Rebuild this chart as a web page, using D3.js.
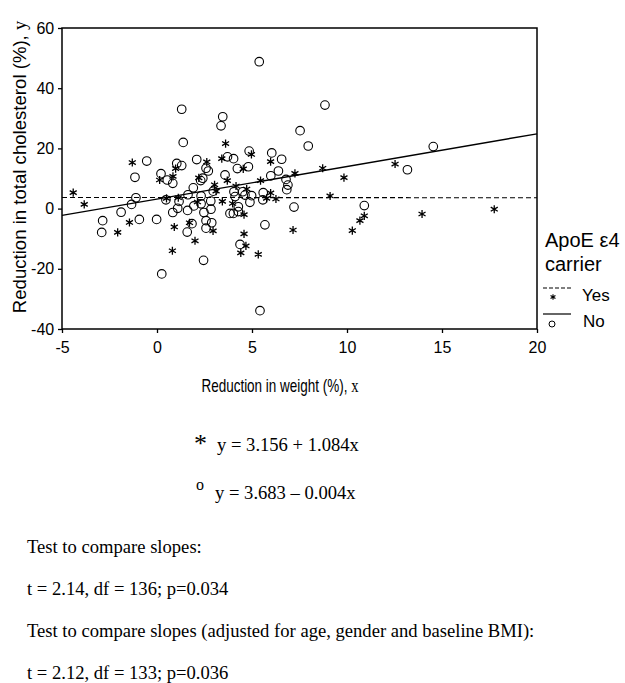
<!DOCTYPE html>
<html>
<head>
<meta charset="utf-8">
<script src="https://cdn.jsdelivr.net/npm/d3@7"></script>
<style>
  body { margin: 0; background: #fff; }
  svg text { fill: #000; }
</style>
</head>
<body>
<div id="chart"></div>
<script>
// ApoE e4 carrier = No (circles)
var noX = [1.30, 1.38, 3.46, 3.37, -0.54, -1.16, 1.04, 1.30, 2.09, 2.58, 2.70, 3.58, 0.21, 0.54, 0.83,
  2.30, 2.41, 1.91, 2.96, -1.11, 1.16, 1.63, 2.32, 2.83, 2.32, -1.34, -1.89, -2.86, -2.91, -0.93,
  -0.02, 0.25, 0.83, 0.47, 1.61, 1.59, 1.84, 2.45, 1.94, 2.47, 2.58, 2.84, 2.88, 2.58, 1.09,
  7.53, 7.96, 3.71, 4.03, 4.85, 6.04, 6.56, 4.23, 4.81, 6.39, 5.99, 6.79, 6.89, 6.83, 4.05,
  4.51, 4.98, 5.59, 4.11, 4.63, 5.57, 4.89, 7.21, 4.28, 3.84, 4.02, 4.28, 5.68, 4.37, 10.91,
  5.42, 5.38, 8.84, 14.54, 13.18];
var noY = [33.0, 22.0, 30.5, 27.5, 15.8, 10.4, 15.0, 14.3, 16.3, 13.4, 12.5, 11.2, 11.6, 9.5, 8.4,
  9.3, 10.1, 6.9, 5.8, 3.6, 2.4, 4.6, 4.2, 2.5, 1.6, 1.4, -1.2, -4.0, -7.9, -3.6,
  -3.6, -21.7, -1.3, 2.9, -0.6, -7.8, -5.0, -17.2, 0.9, -1.3, -4.0, -0.2, -4.7, -6.5, 0.1,
  25.9, 20.8, 17.2, 16.6, 19.1, 18.5, 16.4, 13.3, 13.9, 12.5, 10.9, 9.7, 7.8, 6.3, 5.6,
  5.6, 4.3, 5.3, 4.0, 4.5, 2.9, 2.1, 0.5, 0.6, -1.6, -1.6, -1.0, -5.4, -11.9, 1.0,
  -33.9, 48.8, 34.4, 20.6, 12.9];

// ApoE e4 carrier = Yes (asterisks)
var yesX = [-1.30, 0.98, 2.62, 3.41, 3.61, 0.14, 0.84, 2.20, 3.03, 3.11, 0.50, 1.12, 3.44, -4.41, -3.83,
  -2.07, -1.45, 0.81, 0.91, 1.71, 2.00, 2.95, 4.97, 5.98, 4.54, 3.70, 5.45, 7.26, 4.16, 4.72,
  5.98, 3.98, 5.77, 6.26, 4.58, 7.16, 4.58, 4.68, 4.41, 5.33, 9.84, 9.11, 10.91, 10.68, 10.28,
  8.72, 12.53, 13.95, 17.75, 2.13];
var yesY = [15.3, 13.3, 15.5, 16.6, 21.6, 9.5, 10.7, 10.2, 7.9, 5.8, 3.4, 3.6, 2.4, 5.3, 1.4,
  -7.9, -4.6, -14.0, -6.1, -4.7, -10.7, -7.4, 18.0, 15.6, 13.2, 9.3, 9.3, 11.7, 7.5, 6.5,
  5.2, 1.7, 3.4, 3.2, -2.0, -7.1, -8.4, -12.4, -14.7, -15.2, 10.3, 4.2, -2.4, -4.0, -7.3,
  13.4, 14.8, -1.8, -0.2, 2.2];

// fitted lines: intercept, slope
var yesFit = [3.156, 1.084];
var noFit = [3.683, -0.004];

var xTicks = [-5, 0, 5, 10, 15, 20];
var yTicks = [-40, -20, 0, 20, 40, 60];

var legendTitle = ["ApoE \u03b54", "carrier"];
var legendLabels = ["Yes", "No"];

var notes = [
  "Test to compare slopes:",
  "t = 2.14, df = 136; p=0.034",
  "Test to compare slopes (adjusted for age, gender and baseline BMI):",
  "t = 2.12, df = 133; p=0.036"
];

var W = 625, H = 683;
var margin = {top: 28, left: 62},
    width = 475, height = 301;

var svg = d3.select("#chart").append("svg")
    .attr("width", W)
    .attr("height", H);

var g = svg.append("g")
    .attr("transform", `translate(${margin.left},${margin.top})`);

var x = d3.scaleLinear().domain([-5, 20]).range([0, width]);
var y = d3.scaleLinear().domain([-40, 60]).range([height, 0]);

var sans = "'Liberation Sans', Arial, sans-serif";
var serif = "'Liberation Serif', 'Times New Roman', serif";
var fmt = function(d) { return String(d); }; // plain hyphen minus

// axes
var xAxis = g.append("g")
    .attr("transform", `translate(0,${height})`)
    .call(d3.axisBottom(x).tickValues(xTicks).tickFormat(fmt).tickSize(4).tickSizeOuter(0));
var yAxis = g.append("g")
    .call(d3.axisLeft(y).tickValues(yTicks).tickFormat(fmt).tickSize(4).tickSizeOuter(0));

[xAxis, yAxis].forEach(function(a) {
  a.select(".domain").remove();
  a.selectAll("line").attr("stroke", "#000").attr("stroke-width", 1.3);
  a.selectAll("text").style("font-family", sans).style("font-size", "16px").attr("fill", "#000");
});
xAxis.selectAll("text").attr("dy", "1.05em");
yAxis.selectAll("text").attr("dx", "-0.05em");

// frame
g.append("rect")
    .attr("width", width)
    .attr("height", height)
    .attr("fill", "none")
    .attr("stroke", "#000")
    .attr("stroke-width", 1.5);

// regression lines
var line = d3.line().x(function(d) { return x(d[0]); }).y(function(d) { return y(d[1]); });
function fitPts(f) { return x.domain().map(function(v) { return [v, f[0] + f[1] * v]; }); }

g.append("path").datum(fitPts(yesFit))
    .attr("fill", "none").attr("stroke", "#000").attr("stroke-width", 1.4)
    .attr("d", line);
g.append("path").datum(fitPts(noFit))
    .attr("fill", "none").attr("stroke", "#000").attr("stroke-width", 1.1)
    .attr("stroke-dasharray", "5,3")
    .attr("d", line);

// points
g.selectAll(".no").data(d3.range(noX.length)).enter()
  .append("circle")
    .attr("class", "no")
    .attr("cx", function(i) { return x(noX[i]); })
    .attr("cy", function(i) { return y(noY[i]); })
    .attr("r", 4.3)
    .attr("fill", "none")
    .attr("stroke", "#000")
    .attr("stroke-width", 1.1);

var star = d3.symbol().type(d3.symbolAsterisk).size(46);
g.selectAll(".yes").data(d3.range(yesX.length)).enter()
  .append("path")
    .attr("class", "yes")
    .attr("transform", function(i) { return `translate(${x(yesX[i])},${y(yesY[i])})`; })
    .attr("d", star)
    .attr("fill", "none")
    .attr("stroke", "#000")
    .attr("stroke-width", 1.3);

// axis titles
var yt = svg.append("text")
    .attr("transform", `translate(26,${margin.top + 139}) rotate(-90)`)
    .attr("text-anchor", "middle")
    .style("font-family", sans)
    .style("font-size", "18.6px");
yt.append("tspan").text("Reduction in total cholesterol (%),  ");
yt.append("tspan").style("font-family", serif).text("y");

// x title is set in a narrow face in the original, so squeeze it horizontally
var xt = svg.append("text")
    .attr("transform", "translate(280,392) scale(0.75,1)")
    .attr("text-anchor", "middle")
    .style("font-family", sans)
    .style("font-size", "18px");
xt.append("tspan").text("Reduction in weight (%),  ");
xt.append("tspan").style("font-family", serif).style("font-size", "19.5px").text("x");

// legend
var lg = svg.append("g").attr("transform", "translate(545,0)");
lg.selectAll(".lt").data(legendTitle).enter().append("text")
    .attr("x", 0)
    .attr("y", function(d, i) { return 247 + i * 24; })
    .style("font-family", sans)
    .style("font-size", "20px")
    .text(function(d) { return d; });
lg.append("line").attr("x1", -2).attr("x2", 26).attr("y1", 288).attr("y2", 288)
    .attr("stroke", "#000").attr("stroke-width", 1.1).attr("stroke-dasharray", "4,2");
lg.append("path").attr("transform", "translate(8,297)")
    .attr("d", d3.symbol().type(d3.symbolAsterisk).size(22))
    .attr("fill", "none").attr("stroke", "#000").attr("stroke-width", 1.1);
lg.append("line").attr("x1", -2).attr("x2", 26).attr("y1", 314).attr("y2", 314)
    .attr("stroke", "#000").attr("stroke-width", 1.2);
lg.append("circle").attr("cx", 7).attr("cy", 324).attr("r", 3)
    .attr("fill", "none").attr("stroke", "#000").attr("stroke-width", 1);
lg.selectAll(".ll").data(legendLabels).enter().append("text")
    .attr("x", function(d, i) { return i === 0 ? 37 : 38; })
    .attr("y", function(d, i) { return 301 + i * 26; })
    .style("font-family", sans)
    .style("font-size", "17px")
    .text(function(d) { return d; });

// equations
var eq = svg.append("g").style("font-family", serif);
eq.append("text").attr("x", 194).attr("y", 452).style("font-size", "26px").text("*");
eq.append("text").attr("x", 217).attr("y", 451).style("font-size", "18.6px")
    .text("y = " + yesFit[0].toFixed(3) + " + " + yesFit[1].toFixed(3) + "x");
eq.append("text").attr("x", 196).attr("y", 490).style("font-size", "16px").text("o");
eq.append("text").attr("x", 215).attr("y", 499).style("font-size", "18.6px")
    .text("y = " + noFit[0].toFixed(3) + " \u2013 " + Math.abs(noFit[1]).toFixed(3) + "x");

// notes
svg.selectAll(".note").data(notes).enter().append("text")
    .attr("x", 27)
    .attr("y", function(d, i) { return 553 + i * 42; })
    .style("font-family", serif)
    .style("font-size", "18.6px")
    .text(function(d) { return d; });
</script>
</body>
</html>
